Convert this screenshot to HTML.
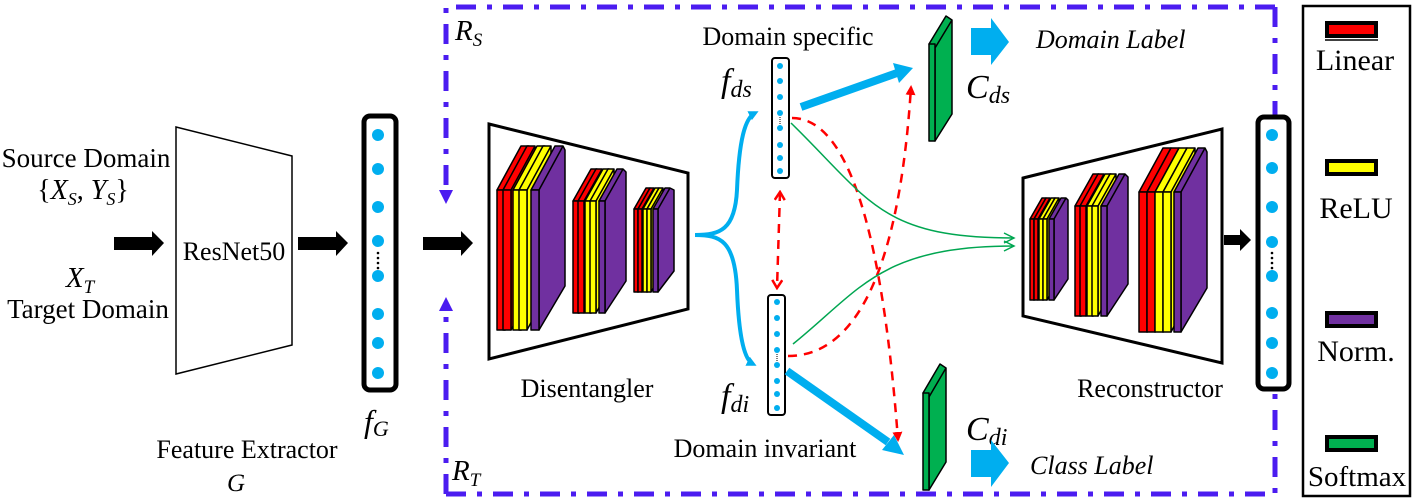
<!DOCTYPE html>
<html><head><meta charset="utf-8"><style>
html,body{margin:0;padding:0;background:#fff;}
svg{display:block;}
text{font-family:"Liberation Serif",serif;fill:#000;}
.it{font-style:italic;}
</style></head><body>
<svg width="1415" height="504" viewBox="0 0 1415 504" xmlns="http://www.w3.org/2000/svg">
<defs>
<marker id="bh" markerWidth="10" markerHeight="10" refX="6" refY="5" orient="auto" markerUnits="userSpaceOnUse"><path d="M0,0 L10,5 L0,10 Z" fill="#00aeef"/></marker>
<marker id="rh" markerWidth="10" markerHeight="10" refX="8" refY="5" orient="auto" markerUnits="userSpaceOnUse"><path d="M0,0 L10,5 L0,10 Z" fill="#ff0000"/></marker>
<marker id="rv" markerWidth="12" markerHeight="12" refX="10" refY="6" orient="auto-start-reverse" markerUnits="userSpaceOnUse"><path d="M2,1 L10,6 L2,11" fill="none" stroke="#ff0000" stroke-width="2.5"/></marker>
<marker id="gh" markerWidth="14" markerHeight="12" refX="12" refY="6" orient="auto" markerUnits="userSpaceOnUse"><path d="M2,1 L12,6 L2,11" fill="none" stroke="#00a651" stroke-width="1.5"/></marker>
</defs>

<!-- dashed region box -->
<g stroke="#4b1cf0" stroke-width="5" fill="none" stroke-dasharray="20,11,5,11">
<path d="M1275,7 L446,7 L446,192"/>
<path d="M446,494 L1275,494 L1275,390"/>
<path d="M446,494 L446,310"/>
<path d="M1275,7 L1275,115"/>
</g>
<path d="M439,190 L453,190 L446,204 Z" fill="#4b1cf0"/>
<path d="M439,311 L453,311 L446,297 Z" fill="#4b1cf0"/>

<!-- legend -->
<rect x="1303" y="6" width="107" height="490" fill="none" stroke="#000" stroke-width="2.5"/>
<rect x="1327" y="23" width="49" height="13" fill="#ff0000" stroke="#000" stroke-width="4"/>
<line x1="1325" y1="40" x2="1378" y2="40" stroke="#000" stroke-width="1.5"/>
<rect x="1327" y="161" width="49" height="13" fill="#ffff00" stroke="#000" stroke-width="4"/>
<rect x="1327" y="313" width="49" height="13" fill="#7030a0" stroke="#000" stroke-width="4"/>
<rect x="1327" y="437" width="49" height="13" fill="#00b050" stroke="#000" stroke-width="4"/>
<text x="1355" y="70" font-size="30" text-anchor="middle">Linear</text>
<text x="1356" y="218" font-size="30" text-anchor="middle">ReLU</text>
<text x="1356" y="361" font-size="30" text-anchor="middle">Norm.</text>
<text x="1357" y="486" font-size="29" text-anchor="middle">Softmax</text>

<!-- left inputs -->
<text x="86" y="167" font-size="27" text-anchor="middle">Source Domain</text>
<text x="83" y="199" font-size="28" text-anchor="middle">{<tspan class="it">X</tspan><tspan class="it" font-size="18" dy="6">S</tspan><tspan dy="-6">, </tspan><tspan class="it">Y</tspan><tspan class="it" font-size="18" dy="6">S</tspan><tspan dy="-6">}</tspan></text>
<text x="80" y="287" font-size="29" text-anchor="middle" class="it">X<tspan font-size="19" dy="6">T</tspan></text>
<text x="88" y="318" font-size="27" text-anchor="middle">Target Domain</text>

<!-- black arrows -->
<g fill="#000">
<path d="M114,237 L152,237 L152,231 L164,243 L152,256 L152,250 L114,250 Z"/>
<path d="M298,237 L336,237 L336,231 L348,243 L336,256 L336,250 L298,250 Z"/>
<path d="M423,237 L461,237 L461,231 L473,243 L461,256 L461,250 L423,250 Z"/>
<path d="M1224,235 L1240,235 L1240,229 L1251,240 L1240,251 L1240,245 L1224,245 Z"/>
</g>

<!-- ResNet -->
<path d="M176,127 L292,156 L292,345 L176,374 Z" fill="#fff" stroke="#000" stroke-width="1.5"/>
<text x="234" y="260" font-size="26" text-anchor="middle">ResNet50</text>
<text x="247" y="458" font-size="26" text-anchor="middle">Feature Extractor</text>
<text x="236" y="491" font-size="25" text-anchor="middle" class="it">G</text>

<!-- fG vector -->
<rect x="364" y="116" width="32" height="274" rx="6" fill="#fff" stroke="#000" stroke-width="5"/>
<g fill="#00aeef">
<circle cx="378" cy="135" r="6"/><circle cx="378" cy="169" r="6"/><circle cx="378" cy="207" r="6"/><circle cx="378" cy="241" r="6"/>
<circle cx="378" cy="276" r="6"/><circle cx="378" cy="314" r="6"/><circle cx="378" cy="343" r="6"/><circle cx="378" cy="373" r="6"/>
</g>
<g fill="#000"><circle cx="378" cy="253" r="1.3"/><circle cx="378" cy="258" r="1.3"/><circle cx="378" cy="263" r="1.3"/><circle cx="378" cy="268" r="1.3"/></g>
<text x="364" y="432" font-size="32" class="it">f<tspan font-size="22" dy="4">G</tspan></text>

<text x="455" y="40" font-size="29" class="it">R<tspan font-size="19" dy="6">S</tspan></text>
<text x="452" y="480" font-size="29" class="it">R<tspan font-size="19" dy="6">T</tspan></text>

<!-- Disentangler -->
<path d="M489,124 L688,173 L688,309 L489,359 Z" fill="#fff" stroke="#000" stroke-width="3"/>
<text x="587" y="397" font-size="26" text-anchor="middle">Disentangler</text>

<!-- Reconstructor -->
<path d="M1023,178 L1222,129 L1222,363 L1023,316 Z" fill="#fff" stroke="#000" stroke-width="3"/>
<text x="1150" y="397" font-size="26" text-anchor="middle">Reconstructor</text>

<!-- layer slabs -->
<g stroke="#000" stroke-width="1.5" stroke-linejoin="round">
<g transform="translate(497,190)">
 <path d="M0,0 L24,-44 L32,-44 L8,0 Z M8,0 L32,-44 L32,96 L8,140 Z" fill="#ff0000"/><rect x="0" y="0" width="8" height="140" fill="#ff0000"/>
 <path d="M6,0 L30,-44 L38,-44 L14,0 Z M14,0 L38,-44 L38,96 L14,140 Z" fill="#ff0000"/><rect x="6" y="0" width="8" height="140" fill="#ff0000"/>
 <path d="M16,0 L40,-44 L48,-44 L24,0 Z M24,0 L48,-44 L48,96 L24,140 Z" fill="#ffff00"/><rect x="16" y="0" width="8" height="140" fill="#ffff00"/>
 <path d="M22,0 L46,-44 L54,-44 L30,0 Z M30,0 L54,-44 L54,96 L30,140 Z" fill="#ffff00"/><rect x="22" y="0" width="8" height="140" fill="#ffff00"/>
 <path d="M34,0 L58,-44 L66,-44 L42,0 Z M42,0 L66,-44 L68,-40 L68,96 L42,140 Z" fill="#7030a0"/><rect x="34" y="0" width="8" height="140" fill="#7030a0"/>
</g>
<g transform="translate(573,201)">
 <path d="M0,0 L18,-32 L24,-32 L6,0 Z M6,0 L24,-32 L24,80 L6,112 Z" fill="#ff0000"/><rect x="0" y="0" width="6" height="112" fill="#ff0000"/>
 <path d="M5,0 L23,-32 L29,-32 L11,0 Z M11,0 L29,-32 L29,80 L11,112 Z" fill="#ff0000"/><rect x="5" y="0" width="6" height="112" fill="#ff0000"/>
 <path d="M12,0 L30,-32 L36,-32 L18,0 Z M18,0 L36,-32 L36,80 L18,112 Z" fill="#ffff00"/><rect x="12" y="0" width="6" height="112" fill="#ffff00"/>
 <path d="M17,0 L35,-32 L41,-32 L23,0 Z M23,0 L41,-32 L41,80 L23,112 Z" fill="#ffff00"/><rect x="17" y="0" width="6" height="112" fill="#ffff00"/>
 <path d="M26,0 L44,-32 L50,-32 L32,0 Z M32,0 L50,-32 L53,-29 L53,80 L32,112 Z" fill="#7030a0"/><rect x="26" y="0" width="6" height="112" fill="#7030a0"/>
</g>
<g transform="translate(634,209)">
 <path d="M0,0 L12,-21 L16,-21 L4,0 Z M4,0 L16,-21 L16,62 L4,83 Z" fill="#ff0000"/><rect x="0" y="0" width="4" height="83" fill="#ff0000"/>
 <path d="M4,0 L16,-21 L20,-21 L8,0 Z M8,0 L20,-21 L20,62 L8,83 Z" fill="#ff0000"/><rect x="4" y="0" width="4" height="83" fill="#ff0000"/>
 <path d="M9,0 L21,-21 L25,-21 L13,0 Z M13,0 L25,-21 L25,62 L13,83 Z" fill="#ffff00"/><rect x="9" y="0" width="4" height="83" fill="#ffff00"/>
 <path d="M13,0 L25,-21 L29,-21 L17,0 Z M17,0 L29,-21 L29,62 L17,83 Z" fill="#ffff00"/><rect x="13" y="0" width="4" height="83" fill="#ffff00"/>
 <path d="M19,0 L31,-21 L36,-21 L24,0 Z M24,0 L36,-21 L40,-19 L40,62 L24,83 Z" fill="#7030a0"/><rect x="19" y="0" width="5" height="83" fill="#7030a0"/>
</g>
<g transform="translate(1030,219)">
 <path d="M0,0 L12,-21 L16,-21 L4,0 Z M4,0 L16,-21 L16,60 L4,81 Z" fill="#ff0000"/><rect x="0" y="0" width="4" height="81" fill="#ff0000"/>
 <path d="M4,0 L16,-21 L20,-21 L8,0 Z M8,0 L20,-21 L20,60 L8,81 Z" fill="#ff0000"/><rect x="4" y="0" width="4" height="81" fill="#ff0000"/>
 <path d="M9,0 L21,-21 L25,-21 L13,0 Z M13,0 L25,-21 L25,60 L13,81 Z" fill="#ffff00"/><rect x="9" y="0" width="4" height="81" fill="#ffff00"/>
 <path d="M13,0 L25,-21 L29,-21 L17,0 Z M17,0 L29,-21 L29,60 L17,81 Z" fill="#ffff00"/><rect x="13" y="0" width="4" height="81" fill="#ffff00"/>
 <path d="M19,0 L31,-21 L36,-21 L24,0 Z M24,0 L36,-21 L38,-19 L38,60 L24,81 Z" fill="#7030a0"/><rect x="19" y="0" width="5" height="81" fill="#7030a0"/>
</g>
<g transform="translate(1075,206)">
 <path d="M0,0 L18,-32 L24,-32 L6,0 Z M6,0 L24,-32 L24,78 L6,110 Z" fill="#ff0000"/><rect x="0" y="0" width="6" height="110" fill="#ff0000"/>
 <path d="M5,0 L23,-32 L29,-32 L11,0 Z M11,0 L29,-32 L29,78 L11,110 Z" fill="#ff0000"/><rect x="5" y="0" width="6" height="110" fill="#ff0000"/>
 <path d="M12,0 L30,-32 L36,-32 L18,0 Z M18,0 L36,-32 L36,78 L18,110 Z" fill="#ffff00"/><rect x="12" y="0" width="6" height="110" fill="#ffff00"/>
 <path d="M17,0 L35,-32 L41,-32 L23,0 Z M23,0 L41,-32 L41,78 L23,110 Z" fill="#ffff00"/><rect x="17" y="0" width="6" height="110" fill="#ffff00"/>
 <path d="M26,0 L44,-32 L50,-32 L32,0 Z M32,0 L50,-32 L53,-29 L53,78 L32,110 Z" fill="#7030a0"/><rect x="26" y="0" width="6" height="110" fill="#7030a0"/>
</g>
<g transform="translate(1139,192)">
 <path d="M0,0 L24,-44 L32,-44 L8,0 Z M8,0 L32,-44 L32,96 L8,140 Z" fill="#ff0000"/><rect x="0" y="0" width="8" height="140" fill="#ff0000"/>
 <path d="M8,0 L32,-44 L40,-44 L16,0 Z M16,0 L40,-44 L40,96 L16,140 Z" fill="#ff0000"/><rect x="8" y="0" width="8" height="140" fill="#ff0000"/>
 <path d="M16,0 L40,-44 L48,-44 L24,0 Z M24,0 L48,-44 L48,96 L24,140 Z" fill="#ffff00"/><rect x="16" y="0" width="8" height="140" fill="#ffff00"/>
 <path d="M24,0 L48,-44 L56,-44 L32,0 Z M32,0 L56,-44 L56,96 L32,140 Z" fill="#ffff00"/><rect x="24" y="0" width="8" height="140" fill="#ffff00"/>
 <path d="M35,0 L59,-44 L66,-44 L42,0 Z M42,0 L66,-44 L68,-40 L68,96 L42,140 Z" fill="#7030a0"/><rect x="35" y="0" width="7" height="140" fill="#7030a0"/>
</g>
<path d="M929,44 L946,16 L952,20 L935,48 Z M935,48 L952,20 L952,114 L935,141 Z" fill="#00b050"/><rect x="929" y="44" width="6" height="97" fill="#00b050"/>
<path d="M923,393 L940,364 L946,368 L929,397 Z M929,397 L946,368 L946,462 L929,490 Z" fill="#00b050"/><rect x="923" y="393" width="6" height="97" fill="#00b050"/>
</g>

<!-- recon output vector -->
<rect x="1258" y="117" width="31" height="272" rx="6" fill="#fff" stroke="#000" stroke-width="5"/>
<g fill="#00aeef">
<circle cx="1272" cy="135" r="6"/><circle cx="1272" cy="168" r="6"/><circle cx="1272" cy="207" r="6"/><circle cx="1272" cy="242" r="6"/>
<circle cx="1272" cy="276" r="6"/><circle cx="1272" cy="313" r="6"/><circle cx="1272" cy="343" r="6"/><circle cx="1272" cy="373" r="6"/>
</g>
<g fill="#000"><circle cx="1272" cy="253" r="1.3"/><circle cx="1272" cy="258" r="1.3"/><circle cx="1272" cy="263" r="1.3"/><circle cx="1272" cy="268" r="1.3"/></g>

<!-- f_ds / f_di vectors -->
<rect x="772" y="58" width="17" height="120" rx="3" fill="#fff" stroke="#000" stroke-width="2"/>
<g fill="#00aeef">
<circle cx="780" cy="66" r="3"/><circle cx="780" cy="81" r="3"/><circle cx="780" cy="97" r="3"/><circle cx="780" cy="113" r="3"/>
<circle cx="780" cy="128" r="3"/><circle cx="780" cy="145" r="3"/><circle cx="780" cy="158" r="3"/><circle cx="780" cy="171" r="3"/>
</g>
<line x1="780" y1="117" x2="780" y2="125" stroke="#000" stroke-width="1" stroke-dasharray="1,1"/>
<rect x="768" y="295" width="17" height="120" rx="3" fill="#fff" stroke="#000" stroke-width="2"/>
<g fill="#00aeef">
<circle cx="777" cy="302" r="3"/><circle cx="777" cy="318" r="3"/><circle cx="777" cy="334" r="3"/><circle cx="777" cy="350" r="3"/>
<circle cx="777" cy="365" r="3"/><circle cx="777" cy="381" r="3"/><circle cx="777" cy="394" r="3"/><circle cx="777" cy="408" r="3"/>
</g>
<line x1="777" y1="354" x2="777" y2="362" stroke="#000" stroke-width="1" stroke-dasharray="1,1"/>

<text x="788" y="45" font-size="26" text-anchor="middle">Domain specific</text>
<text x="765" y="457" font-size="26" text-anchor="middle">Domain invariant</text>
<text x="721" y="92" font-size="34" class="it">f<tspan font-size="24" dy="5">ds</tspan></text>
<text x="721" y="407" font-size="34" class="it">f<tspan font-size="24" dy="5">di</tspan></text>
<text x="966" y="98" font-size="34" class="it">C<tspan font-size="24" dy="5">ds</tspan></text>
<text x="966" y="440" font-size="34" class="it">C<tspan font-size="24" dy="5">di</tspan></text>
<text x="1036" y="48" font-size="26" class="it">Domain Label</text>
<text x="1030" y="474" font-size="26" class="it">Class Label</text>

<!-- blue block arrows -->
<path d="M971,28 L991,28 L991,18 L1009,42 L991,65 L991,55 L971,55 Z" fill="#00aeef"/>
<path d="M971,450 L991,450 L991,440 L1009,463 L991,487 L991,477 L971,477 Z" fill="#00aeef"/>

<!-- blue curved splits -->
<g fill="none" stroke="#00aeef" stroke-width="4">
<path d="M695,235 C720,235 735,230 737,190 C739,140 745,118 755,113" marker-end="url(#bh)"/>
<path d="M695,235 C720,235 735,240 737,290 C739,340 745,360 753,364" marker-end="url(#bh)"/>
</g>
<path d="M801,107 L897,73" stroke="#00aeef" stroke-width="8"/>
<path d="M893,63 L913,68 L899,83 Z" fill="#00aeef"/>
<path d="M787,371 L888,442" stroke="#00aeef" stroke-width="8"/>
<path d="M882,450 L904,455 L894,435 Z" fill="#00aeef"/>

<!-- red dashed -->
<g fill="none" stroke="#ff0000" stroke-width="2.5" stroke-dasharray="9,7">
<path d="M792,118 C840,118 880,200 898,440" marker-end="url(#rh)"/>
<path d="M788,356 C860,356 900,260 911,87" marker-end="url(#rh)"/>
<path d="M780,192 L777,288" marker-end="url(#rv)" marker-start="url(#rv)"/>
</g>
<!-- green -->
<g fill="none" stroke="#00a651" stroke-width="1.5">
<path d="M791,123 C870,200 880,238 1014,238" marker-end="url(#gh)"/>
<path d="M793,344 C860,290 880,246 1014,246" marker-end="url(#gh)"/>
</g>
</svg>
</body></html>
